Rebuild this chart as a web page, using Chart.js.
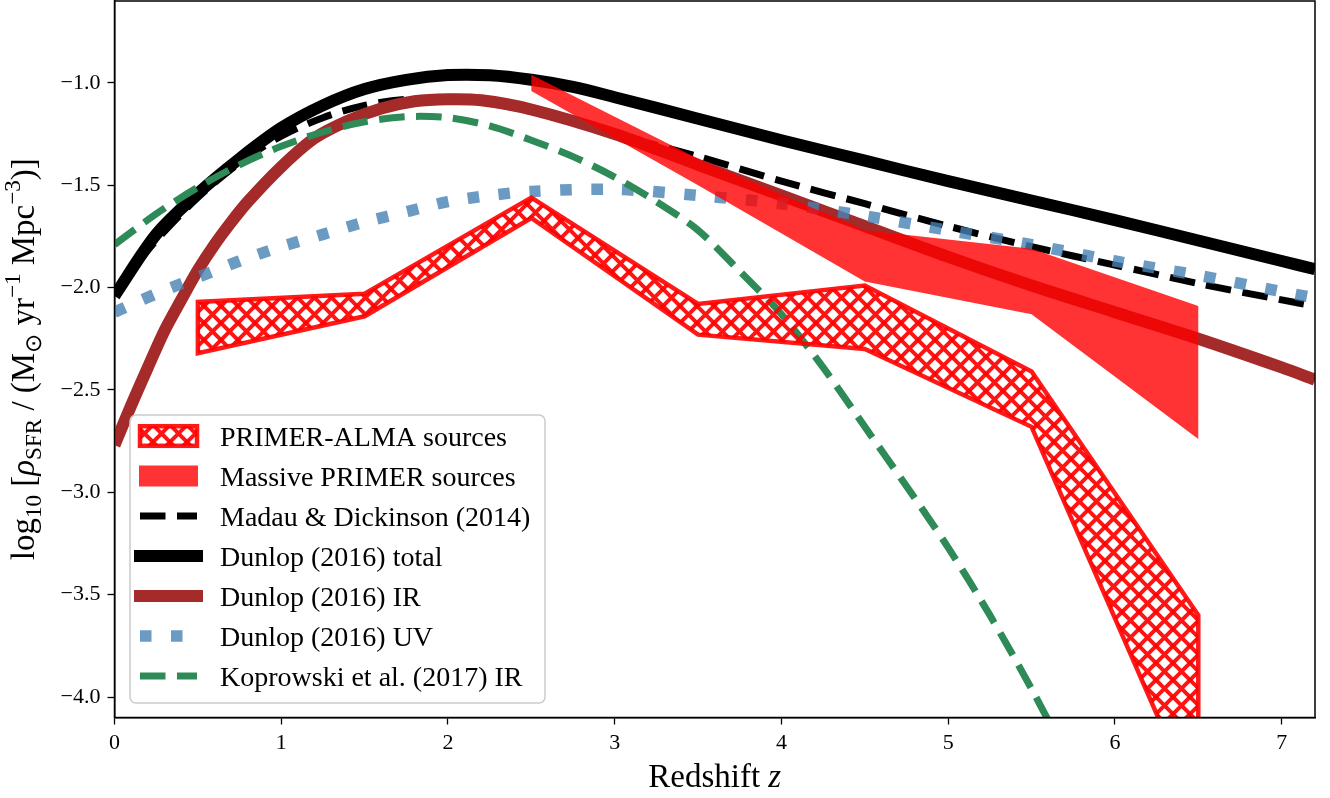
<!DOCTYPE html>
<html>
<head>
  <title>Star formation rate density vs redshift</title>
  <script src="https://cdn.jsdelivr.net/npm/chart.js"></script>
  <style>
    body { margin: 0; background: #fff; }
  </style>
</head>
<body>
  <div style="width: 1330px; height: 798px;">
    <canvas id="sfrd"></canvas>
  </div>

  <script>
    // PRIMER-ALMA sources (hatched band)
    const almaZ = [0.5, 1.5, 2.5, 3.5, 4.5, 5.5, 6.5];
    const almaUpper = [-2.07, -2.03, -1.56, -2.08, -1.99, -2.41, -3.60];
    const almaLower = [-2.32, -2.14, -1.66, -2.23, -2.30, -2.68, -4.55];

    // Massive PRIMER sources (solid band)
    const massZ = [2.5, 3.5, 4.5, 5.5, 6.5];
    const massUpper = [-0.96, -1.37, -1.72, -1.81, -2.09];
    const massLower = [-1.04, -1.50, -1.97, -2.13, -2.74];

    // Madau & Dickinson (2014)
    const mdZ = [0, 0.25, 0.5, 0.75, 1, 1.25, 1.5, 1.75, 2, 2.25, 2.5, 2.75, 3, 3.5, 4, 4.5, 5, 5.5, 6, 6.5, 7, 7.2];
    const mdLog = [-2.02, -1.77, -1.56, -1.39, -1.26, -1.17, -1.11, -1.08, -1.08, -1.10, -1.14, -1.19, -1.25, -1.36, -1.48, -1.59, -1.70, -1.80, -1.89, -1.98, -2.06, -2.09];

    // Dunlop (2016) total
    const totZ = [0, 0.25, 0.5, 0.75, 1, 1.25, 1.5, 1.75, 2, 2.25, 2.5, 2.75, 3, 3.5, 4, 4.5, 5, 5.5, 6, 6.5, 7, 7.2];
    const totLog = [-2.04, -1.74, -1.54, -1.37, -1.22, -1.11, -1.03, -0.985, -0.962, -0.963, -0.985, -1.02, -1.07, -1.175, -1.28, -1.38, -1.48, -1.575, -1.67, -1.77, -1.87, -1.91];

    // Dunlop (2016) IR
    const irZ = [0, 0.1, 0.2, 0.3, 0.4, 0.5, 0.6, 0.7, 0.8, 1.0, 1.2, 1.4, 1.6, 1.8, 2.0, 2.2, 2.5, 3.0, 3.5, 4.0, 4.5, 5.0, 5.5, 6.0, 6.5, 7.0, 7.2];
    const irLog = [-2.77, -2.575, -2.39, -2.21, -2.06, -1.915, -1.79, -1.68, -1.58, -1.41, -1.27, -1.185, -1.125, -1.09, -1.08, -1.085, -1.13, -1.25, -1.40, -1.55, -1.70, -1.85, -1.99, -2.12, -2.25, -2.39, -2.45];

    // Dunlop (2016) UV
    const uvZ = [0, 0.25, 0.5, 0.75, 1, 1.25, 1.5, 1.75, 2, 2.25, 2.5, 3, 3.5, 4, 4.5, 5, 5.5, 6, 6.5, 7, 7.2];
    const uvLog = [-2.12, -2.03, -1.95, -1.87, -1.80, -1.74, -1.68, -1.63, -1.58, -1.55, -1.53, -1.52, -1.55, -1.59, -1.65, -1.72, -1.79, -1.87, -1.94, -2.02, -2.05];

    // Koprowski et al. (2017) IR
    const kopZ = [0, 0.25, 0.5, 0.75, 1, 1.25, 1.5, 1.75, 2, 2.25, 2.5, 2.75, 3, 3.25, 3.5, 3.75, 4, 4.25, 4.5, 4.75, 5, 5.25, 5.5, 5.7];
    const kopLog = [-1.79, -1.64, -1.51, -1.40, -1.31, -1.24, -1.19, -1.165, -1.17, -1.21, -1.28, -1.36, -1.46, -1.58, -1.72, -1.92, -2.13, -2.39, -2.68, -2.97, -3.27, -3.60, -3.96, -4.27];

    const legendLabels = [
      'PRIMER-ALMA sources',
      'Massive PRIMER sources',
      'Madau & Dickinson (2014)',
      'Dunlop (2016) total',
      'Dunlop (2016) IR',
      'Dunlop (2016) UV',
      'Koprowski et al. (2017) IR'
    ];

    const xTicks = [0, 1, 2, 3, 4, 5, 6, 7];
    const xTickLabels = ['0', '1', '2', '3', '4', '5', '6', '7'];
    const yTicks = [-4.0, -3.5, -3.0, -2.5, -2.0, -1.5, -1.0];
    const yTickLabels = ['\u22124.0', '\u22123.5', '\u22123.0', '\u22122.5', '\u22122.0', '\u22121.5', '\u22121.0'];

    const SERIF = "'Liberation Serif', 'Times New Roman', serif";

    // red cross-hatch like matplotlib 'xxx'
    function makeHatch() {
      const s = 17;
      const c = document.createElement('canvas');
      c.width = s; c.height = s;
      const g = c.getContext('2d');
      g.strokeStyle = 'rgba(255,0,0,0.92)';
      g.lineWidth = 4;
      for (let k = -1; k <= 1; k++) {
        g.beginPath();
        g.moveTo(k * s - 3, -3); g.lineTo(k * s + s + 3, s + 3);
        g.moveTo(k * s + s + 3, -3); g.lineTo(k * s - 3, s + 3);
        g.stroke();
      }
      return g.createPattern(c, 'repeat');
    }
    const hatch = makeHatch();

    function band(zs, upper, lower) {
      const pts = zs.map((z, i) => ({ x: z, y: upper[i] }));
      for (let i = zs.length - 1; i >= 0; i--) pts.push({ x: zs[i], y: lower[i] });
      pts.push(pts[0], pts[1]);
      return pts;
    }
    const curve = (zs, vals) => zs.map((z, i) => ({ x: z, y: vals[i] }));

    const lineBase = { showLine: true, pointRadius: 0, fill: false, clip: 0, tension: 0.3 };

    // draws a row of text pieces with sub/superscripts, centred on 0
    function richText(ctx, parts, size) {
      let total = 0;
      parts.forEach(p => {
        ctx.font = (p.it ? 'italic ' : '') + (size * (p.s || 1)) + 'px ' + SERIF;
        p.w = ctx.measureText(p.t).width;
        total += p.w;
      });
      let x = -total / 2;
      parts.forEach(p => {
        ctx.font = (p.it ? 'italic ' : '') + (size * (p.s || 1)) + 'px ' + SERIF;
        ctx.fillText(p.t, x, (p.dy || 0) * size);
        x += p.w;
      });
    }

    const decorations = {
      id: 'decorations',
      afterDraw(chart) {
        const ctx = chart.ctx;
        const a = chart.chartArea;
        ctx.save();

        // frame
        ctx.strokeStyle = '#000';
        ctx.lineWidth = 1.5;
        ctx.strokeRect(a.left, a.top, a.right - a.left, a.bottom - a.top);

        // axis titles
        ctx.fillStyle = '#000';
        ctx.textBaseline = 'alphabetic';
        ctx.textAlign = 'left';
        ctx.save();
        ctx.translate((a.left + a.right) / 2, 787);
        richText(ctx, [{ t: 'Redshift ' }, { t: 'z', it: true }], 33);
        ctx.restore();

        ctx.save();
        ctx.translate(34, (a.top + a.bottom) / 2);
        ctx.rotate(-Math.PI / 2);
        richText(ctx, [
          { t: 'log' }, { t: '10', s: 0.7, dy: 0.22 }, { t: ' [' },
          { t: '\u03c1', it: true }, { t: 'SFR', s: 0.7, dy: 0.22 },
          { t: ' / (M' }, { t: '\u2299', s: 0.7, dy: 0.22 },
          { t: ' yr' }, { t: '\u22121', s: 0.7, dy: -0.42 },
          { t: ' Mpc' }, { t: '\u22123', s: 0.7, dy: -0.42 }, { t: ')]' }
        ], 33);
        ctx.restore();

        // legend
        const lx = a.left + 15.5, lw = 415, lh = 288;
        const ly = a.bottom - 14.5 - lh, r = 6;
        ctx.beginPath();
        ctx.moveTo(lx + r, ly);
        ctx.arcTo(lx + lw, ly, lx + lw, ly + lh, r);
        ctx.arcTo(lx + lw, ly + lh, lx, ly + lh, r);
        ctx.arcTo(lx, ly + lh, lx, ly, r);
        ctx.arcTo(lx, ly, lx + lw, ly, r);
        ctx.closePath();
        ctx.fillStyle = 'rgba(255,255,255,0.8)';
        ctx.fill();
        ctx.strokeStyle = '#cccccc';
        ctx.lineWidth = 1.5;
        ctx.stroke();

        const ds = chart.data.datasets;
        legendLabels.forEach((label, i) => {
          const cy = ly + 21 + 40 * i;
          const x0 = lx + 10, x1 = lx + 67;
          const d = ds[i];
          ctx.setLineDash([]);
          if (i === 0) {
            ctx.fillStyle = hatch;
            ctx.fillRect(x0, cy - 9.8, x1 - x0, 19.6);
            ctx.strokeStyle = d.borderColor;
            ctx.lineWidth = d.borderWidth;
            ctx.lineJoin = 'miter';
            ctx.strokeRect(x0, cy - 9.8, x1 - x0, 19.6);
          } else if (i === 1) {
            ctx.fillStyle = d.backgroundColor;
            ctx.fillRect(x0 - 1, cy - 10.5, x1 - x0 + 2, 21);
          } else {
            ctx.beginPath();
            ctx.strokeStyle = d.borderColor;
            ctx.lineWidth = d.borderWidth;
            const dashed = d.borderDash && d.borderDash.length;
            ctx.lineCap = dashed ? 'butt' : 'square';
            ctx.setLineDash(dashed ? d.borderDash : []);
            ctx.moveTo(x0, cy);
            ctx.lineTo(x1, cy);
            ctx.stroke();
          }
          ctx.setLineDash([]);
          ctx.fillStyle = '#000';
          ctx.font = '28px ' + SERIF;
          ctx.textAlign = 'left';
          ctx.fillText(label, lx + 90, cy + 9.5);
        });
        ctx.restore();
      }
    };

    const tickFont = { family: SERIF, size: 22 };
    const noPad = s => { s.paddingTop = 0; s.paddingBottom = 0; s.paddingLeft = 0; s.paddingRight = 0; };

    new Chart(document.getElementById('sfrd'), {
      type: 'scatter',
      data: {
        datasets: [
          {
            label: legendLabels[0], data: band(almaZ, almaUpper, almaLower),
            showLine: true, pointRadius: 0, clip: 0, tension: 0, order: 0,
            fill: 'shape', backgroundColor: hatch,
            borderColor: 'rgba(255,0,0,0.9)', borderWidth: 4.5, borderJoinStyle: 'miter'
          },
          {
            label: legendLabels[1], data: band(massZ, massUpper, massLower),
            showLine: true, pointRadius: 0, clip: 0, tension: 0, order: 1,
            fill: 'shape', backgroundColor: 'rgba(255,0,0,0.8)',
            borderColor: 'rgba(0,0,0,0)', borderWidth: 0
          },
          Object.assign({}, lineBase, {
            label: legendLabels[2], data: curve(mdZ, mdLog), order: 6,
            borderColor: '#000000', borderWidth: 7, borderDash: [25.5, 11.5]
          }),
          Object.assign({}, lineBase, {
            label: legendLabels[3], data: curve(totZ, totLog), order: 5,
            borderColor: '#000000', borderWidth: 12
          }),
          Object.assign({}, lineBase, {
            label: legendLabels[4], data: curve(irZ, irLog), order: 4,
            borderColor: '#a52a2a', borderWidth: 12
          }),
          Object.assign({}, lineBase, {
            label: legendLabels[5], data: curve(uvZ, uvLog), order: 3,
            borderColor: 'rgba(70,130,180,0.8)', borderWidth: 11.5, borderDash: [11.5, 19.5]
          }),
          Object.assign({}, lineBase, {
            label: legendLabels[6], data: curve(kopZ, kopLog), order: 2,
            borderColor: '#2e8b57', borderWidth: 7, borderDash: [25.5, 11.5]
          })
        ]
      },
      options: {
        responsive: true,
        maintainAspectRatio: false,
        animation: false,
        layout: { padding: { top: 1, right: 15, left: 0, bottom: 0 } },
        plugins: { legend: { display: false }, tooltip: { enabled: false } },
        scales: {
          x: {
            type: 'linear', min: 0, max: 7.2,
            afterFit: s => { s.height = 80.5; noPad(s); },
            afterBuildTicks: s => { s.ticks = xTicks.map(v => ({ value: v })); },
            ticks: {
              callback: (v, i) => xTickLabels[i],
              font: tickFont, color: '#000', padding: 6, maxRotation: 0, autoSkip: false
            },
            grid: { drawOnChartArea: false, tickLength: 7, tickWidth: 1.3, color: '#000' },
            border: { color: '#000', width: 1.5 }
          },
          y: {
            type: 'linear', min: -4.1, max: -0.6,
            afterFit: s => { s.width = 114.5; noPad(s); },
            afterBuildTicks: s => { s.ticks = yTicks.map(v => ({ value: v })); },
            ticks: {
              callback: (v, i) => yTickLabels[i],
              font: tickFont, color: '#000', padding: 7, autoSkip: false
            },
            grid: { drawOnChartArea: false, tickLength: 7, tickWidth: 1.3, color: '#000' },
            border: { color: '#000', width: 1.5 }
          }
        }
      },
      plugins: [decorations]
    });
  </script>
</body>
</html>
